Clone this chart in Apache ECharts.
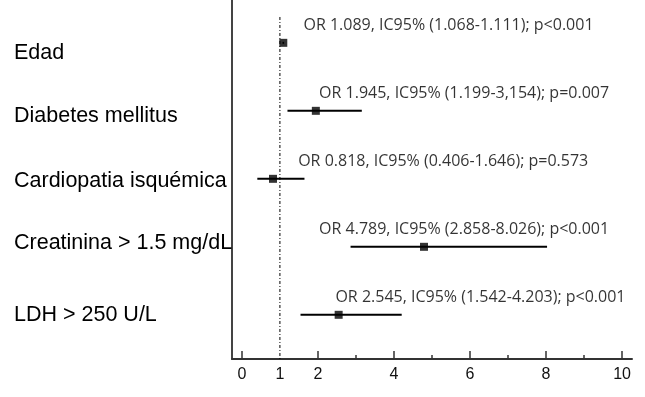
<!DOCTYPE html>
<html><head><meta charset="utf-8">
<script src="https://cdn.jsdelivr.net/npm/echarts@6/dist/echarts.min.js"></script>
<style>html,body{margin:0;padding:0;background:#fff}#c{width:645px;height:397px}</style>
</head><body><div id="c"></div>
<script>
const variables = ['Edad', 'Diabetes mellitus', 'Cardiopatia isquémica', 'Creatinina > 1.5 mg/dL', 'LDH > 250 U/L'];
const orValues = [1.089, 1.945, 0.818, 4.789, 2.545];
const ciLow = [1.068, 1.199, 0.406, 2.858, 1.542];
const ciHigh = [1.111, 3.154, 1.646, 8.026, 4.203];
const ciText = ['1.068-1.111', '1.199-3,154', '0.406-1.646', '2.858-8.026', '1.542-4.203'];
const pText = ['p<0.001', 'p=0.007', 'p=0.573', 'p<0.001', 'p<0.001'];
const xTickLabels = [0, 1, 2, 4, 6, 8, 10];
const xMajorTicks = [0, 2, 4, 6, 8, 10];
const xMinorTicks = [3, 5, 7, 9];
const refValue = 1;

// layout helpers (data units)
const noteAnchorX = [1.62, 2.03, 1.48, 2.03, 2.46];
const labelRowPos = [0.15, 1.08, 2.04, 2.95, 4.0];

const chart = echarts.init(document.getElementById('c'));
const rows = variables.map((v, i) => i);
const notes = rows.map(i => ({
  value: [noteAnchorX[i], i - 0.25],
  text: 'OR ' + orValues[i].toFixed(3) + ', IC95% (' + ciText[i] + '); ' + pText[i]
}));

const option = {
  animation: false,
  grid: { left: 232, right: 13, top: 0, bottom: 38 },
  xAxis: [{
    type: 'value', min: -0.26, max: 10.26, position: 'bottom',
    axisLine: { show: true, onZero: false, lineStyle: { color: '#333', width: 2 } },
    axisTick: { show: true, inside: true, length: 8, customValues: xMajorTicks, lineStyle: { color: '#333', width: 1.5 } },
    axisLabel: { customValues: xTickLabels, color: '#111', fontFamily: 'Liberation Sans', fontSize: 16, margin: 8 },
    splitLine: { show: false }
  }, {
    type: 'value', min: -0.26, max: 10.26, position: 'bottom',
    axisLine: { show: false, onZero: false },
    axisTick: { show: true, inside: true, length: 4, customValues: xMinorTicks, lineStyle: { color: '#333', width: 1.5 } },
    axisLabel: { show: false },
    splitLine: { show: false }
  }],
  yAxis: {
    type: 'value', inverse: true, min: -0.63, max: 4.65,
    axisLine: { show: true, onZero: false, lineStyle: { color: '#444', width: 2 } },
    axisTick: { show: false },
    splitLine: { show: false },
    axisLabel: {
      customValues: labelRowPos,
      formatter: v => variables[Math.round(v)],
      align: 'left', margin: 218,
      color: '#000', fontFamily: 'Liberation Sans', fontSize: 21.5
    }
  },
  series: [
    {
      type: 'line', silent: true, symbol: 'none',
      data: [[refValue, -0.38], [refValue, 4.65]],
      lineStyle: { color: '#000', width: 1, type: [3, 2, 1, 2] }
    },
    {
      type: 'custom', silent: true,
      data: rows.map(i => [ciLow[i], ciHigh[i], i]),
      encode: { x: [0, 1], y: 2 },
      renderItem: (params, api) => {
        const a = api.coord([api.value(0), api.value(2)]);
        const b = api.coord([api.value(1), api.value(2)]);
        return { type: 'line', shape: { x1: a[0], y1: a[1], x2: b[0], y2: b[1] }, style: { stroke: '#000', lineWidth: 2 } };
      }
    },
    {
      type: 'scatter', silent: true, symbol: 'rect', symbolSize: 8,
      itemStyle: { color: '#000' },
      data: rows.map(i => [orValues[i], i])
    },
    {
      type: 'scatter', silent: true, symbolSize: 0,
      data: notes,
      label: {
        show: true, position: 'right', distance: 0,
        formatter: p => p.data.text,
        color: '#000', fontFamily: 'Open Sans', fontSize: 16
      }
    }
  ]
};
chart.setOption(option);
</script>
</body></html>
